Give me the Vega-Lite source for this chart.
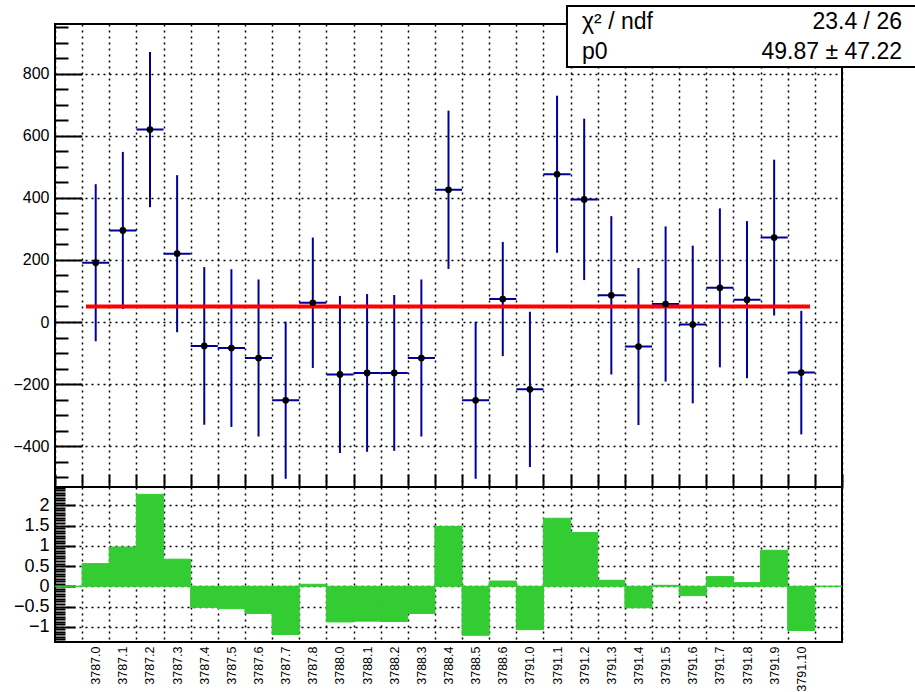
{
  "$schema": "https://vega.github.io/schema/vega-lite/v6.json",
  "background": "white",
  "padding": {"left": 11, "top": 3, "right": 1, "bottom": 0},
  "spacing": 0,
  "bounds": "flush",
  "datasets": {
    "points": [
      {"run": "3787.0", "value": 191, "err": 253},
      {"run": "3787.1", "value": 295, "err": 253},
      {"run": "3787.2", "value": 620, "err": 250},
      {"run": "3787.3", "value": 220, "err": 253},
      {"run": "3787.4", "value": -77, "err": 254},
      {"run": "3787.5", "value": -84, "err": 254},
      {"run": "3787.6", "value": -116, "err": 253},
      {"run": "3787.7", "value": -252, "err": 253},
      {"run": "3787.8", "value": 62, "err": 210},
      {"run": "3788.0", "value": -169, "err": 253},
      {"run": "3788.1", "value": -164, "err": 254},
      {"run": "3788.2", "value": -164, "err": 251},
      {"run": "3788.3", "value": -116, "err": 253},
      {"run": "3788.4", "value": 426, "err": 255},
      {"run": "3788.5", "value": -252, "err": 253},
      {"run": "3788.6", "value": 74, "err": 184},
      {"run": "3791.0", "value": -217, "err": 250},
      {"run": "3791.1", "value": 476, "err": 253},
      {"run": "3791.2", "value": 395, "err": 260},
      {"run": "3791.3", "value": 86, "err": 255},
      {"run": "3791.4", "value": -79, "err": 253},
      {"run": "3791.5", "value": 58, "err": 250},
      {"run": "3791.6", "value": -8, "err": 254},
      {"run": "3791.7", "value": 110, "err": 256},
      {"run": "3791.8", "value": 72, "err": 253},
      {"run": "3791.9", "value": 272, "err": 251},
      {"run": "3791.10", "value": -163, "err": 199}
    ],
    "residuals": [
      {"run": " ", "pull": 0},
      {"run": "3787.0", "pull": 0.56},
      {"run": "3787.1", "pull": 0.97},
      {"run": "3787.2", "pull": 2.27},
      {"run": "3787.3", "pull": 0.67},
      {"run": "3787.4", "pull": -0.52},
      {"run": "3787.5", "pull": -0.55},
      {"run": "3787.6", "pull": -0.67},
      {"run": "3787.7", "pull": -1.19},
      {"run": "3787.8", "pull": 0.05},
      {"run": "3788.0", "pull": -0.88},
      {"run": "3788.1", "pull": -0.86},
      {"run": "3788.2", "pull": -0.87},
      {"run": "3788.3", "pull": -0.67},
      {"run": "3788.4", "pull": 1.48},
      {"run": "3788.5", "pull": -1.21},
      {"run": "3788.6", "pull": 0.13},
      {"run": "3791.0", "pull": -1.07},
      {"run": "3791.1", "pull": 1.68},
      {"run": "3791.2", "pull": 1.33},
      {"run": "3791.3", "pull": 0.15},
      {"run": "3791.4", "pull": -0.53},
      {"run": "3791.5", "pull": 0.025},
      {"run": "3791.6", "pull": -0.23},
      {"run": "3791.7", "pull": 0.24},
      {"run": "3791.8", "pull": 0.09},
      {"run": "3791.9", "pull": 0.89},
      {"run": "3791.10", "pull": -1.09},
      {"run": "  ", "pull": 0}
    ],
    "fit": [
      {"p0": 49.87, "chi2ndf": "23.4 / 26", "p0text": "49.87 ± 47.22"}
    ]
  },
  "vconcat": [
    {
      "width": 787,
      "height": 463,
      "resolve": {"axis": {"x": "independent", "y": "independent"}},
      "layer": [
        {
          "data": {"name": "points"},
          "mark": {"type": "errorbar", "color": "#000099", "thickness": 2},
          "encoding": {
            "x": {
              "field": "run", "type": "nominal", "title": null,
              "scale": {"domain": [" ", "3787.0", "3787.1", "3787.2", "3787.3", "3787.4", "3787.5", "3787.6", "3787.7", "3787.8", "3788.0", "3788.1", "3788.2", "3788.3", "3788.4", "3788.5", "3788.6", "3791.0", "3791.1", "3791.2", "3791.3", "3791.4", "3791.5", "3791.6", "3791.7", "3791.8", "3791.9", "3791.10", "  "], "paddingInner": 0, "paddingOuter": 0},
              "axis": {"orient": "bottom", "labels": false, "ticks": false, "tickBand": "extent", "grid": true, "domain": false, "title": null}
            },
            "y": {
              "field": "value", "type": "quantitative", "title": null,
              "scale": {"domain": [-531.5, 960], "nice": false, "zero": false},
              "axis": {"orient": "left", "values": [-400, -200, 0, 200, 400, 600, 800], "format": "d", "ticks": false, "labelFontSize": 16, "labelPadding": 6, "grid": true, "domain": false, "title": null}
            },
            "yError": {"field": "err"}
          }
        },
        {
          "data": {"name": "points"},
          "mark": {"type": "rect", "fill": null, "stroke": "#000099", "strokeWidth": 2},
          "encoding": {
            "x": {"field": "run", "type": "nominal", "title": null,
              "axis": {"orient": "top", "offset": -463, "labels": false, "ticks": true, "tickSize": 13, "tickWidth": 2, "tickBand": "extent", "grid": false, "domain": false, "title": null}},
            "y": {"field": "value", "type": "quantitative", "title": null,
              "axis": {"orient": "right", "offset": -787, "values": [-400, -200, 0, 200, 400, 600, 800], "labels": false, "ticks": true, "tickSize": 27, "tickWidth": 2, "grid": false, "domain": false, "title": null}},
            "y2": {"field": "value"}
          }
        },
        {
          "data": {"name": "fit"},
          "mark": {"type": "rule", "color": "#ff0000", "strokeWidth": 4},
          "encoding": {
            "x": {"datum": "3787.0", "type": "nominal", "bandPosition": 0.142, "axis": null},
            "x2": {"datum": "3791.10", "bandPosition": 0.82},
            "y": {"field": "p0", "type": "quantitative", "title": null, "axis": null}
          }
        },
        {
          "data": {"name": "points"},
          "mark": {"type": "point", "filled": true, "color": "black", "size": 45, "opacity": 1},
          "encoding": {
            "x": {"field": "run", "type": "nominal", "title": null, "axis": null},
            "y": {"field": "value", "type": "quantitative", "title": null,
              "axis": {"orient": "right", "offset": -787, "values": [-500, -450, -350, -300, -250, -150, -100, -50, 50, 100, 150, 250, 300, 350, 450, 500, 550, 650, 700, 750, 850, 900, 950], "labels": false, "ticks": true, "tickSize": 13, "tickWidth": 2, "grid": false, "domain": false, "title": null}}
          }
        },
        {
          "data": {"name": "fit"},
          "mark": {"type": "rect", "fill": "white", "stroke": "black", "strokeWidth": 2, "clip": false},
          "encoding": {
            "x": {"datum": "3791.1", "type": "nominal", "bandPosition": 0.866, "axis": null},
            "x2": {"datum": "  ", "bandPosition": 3.727},
            "y": {"datum": 1018, "type": "quantitative", "axis": null},
            "y2": {"datum": 821.5}
          }
        },
        {
          "data": {"name": "fit"},
          "mark": {"type": "text", "text": "χ² / ndf", "align": "left", "baseline": "alphabetic", "fontSize": 23, "font": "Liberation Sans", "color": "black", "clip": false},
          "encoding": {
            "x": {"datum": "3791.2", "type": "nominal", "bandPosition": 0.42, "axis": null},
            "y": {"datum": 943.9, "type": "quantitative", "axis": null}
          }
        },
        {
          "data": {"name": "fit"},
          "mark": {"type": "text", "text": "p0", "align": "left", "baseline": "alphabetic", "fontSize": 23, "font": "Liberation Sans", "color": "black", "clip": false},
          "encoding": {
            "x": {"datum": "3791.2", "type": "nominal", "bandPosition": 0.42, "axis": null},
            "y": {"datum": 847.2, "type": "quantitative", "axis": null}
          }
        },
        {
          "data": {"name": "fit"},
          "mark": {"type": "text", "align": "right", "baseline": "alphabetic", "fontSize": 23, "font": "Liberation Sans", "color": "black", "clip": false},
          "encoding": {
            "x": {"datum": "  ", "type": "nominal", "bandPosition": 3.21, "axis": null},
            "y": {"datum": 943.9, "type": "quantitative", "axis": null},
            "text": {"field": "chi2ndf"}
          }
        },
        {
          "data": {"name": "fit"},
          "mark": {"type": "text", "align": "right", "baseline": "alphabetic", "fontSize": 23, "font": "Liberation Sans", "color": "black", "clip": false},
          "encoding": {
            "x": {"datum": "  ", "type": "nominal", "bandPosition": 3.21, "axis": null},
            "y": {"datum": 847.2, "type": "quantitative", "axis": null},
            "text": {"field": "p0text"}
          }
        }
      ]
    },
    {
      "width": 787,
      "height": 155,
      "data": {"name": "residuals"},
      "resolve": {"axis": {"x": "independent", "y": "independent"}},
      "layer": [
        {
          "mark": {"type": "bar", "color": "#33cc33", "stroke": "#33cc33", "strokeWidth": 1},
          "encoding": {
            "x": {
              "field": "run", "type": "nominal", "title": null, "sort": null,
              "scale": {"domain": [" ", "3787.0", "3787.1", "3787.2", "3787.3", "3787.4", "3787.5", "3787.6", "3787.7", "3787.8", "3788.0", "3788.1", "3788.2", "3788.3", "3788.4", "3788.5", "3788.6", "3791.0", "3791.1", "3791.2", "3791.3", "3791.4", "3791.5", "3791.6", "3791.7", "3791.8", "3791.9", "3791.10", "  "], "paddingInner": 0, "paddingOuter": 0},
              "axis": {"orient": "bottom", "tickBand": "extent", "ticks": false, "grid": true, "domain": false, "labelAngle": -90, "labelFontSize": 12.5, "labelPadding": 4, "title": null}
            },
            "y": {
              "field": "pull", "type": "quantitative", "title": null,
              "scale": {"domain": [-1.375, 2.452], "nice": false, "zero": false},
              "axis": {"orient": "left", "values": [-1, -0.5, 0, 0.5, 1, 1.5, 2], "format": "~g", "ticks": false, "labelFontSize": 18, "labelPadding": 6, "grid": true, "domain": false, "title": null}
            }
          }
        },
        {
          "mark": {"type": "bar", "opacity": 0},
          "encoding": {
            "x": {"field": "run", "type": "nominal", "title": null, "sort": null, "axis": null},
            "y": {"field": "pull", "type": "quantitative", "title": null,
              "axis": {"orient": "right", "offset": -787, "values": [-1, -0.5, 0, 0.5, 1, 1.5, 2], "labels": false, "ticks": true, "tickSize": 20, "tickWidth": 2, "grid": false, "domain": false, "title": null}}
          }
        },
        {
          "mark": {"type": "bar", "opacity": 0},
          "encoding": {
            "x": {"field": "run", "type": "nominal", "title": null, "sort": null, "axis": null},
            "y": {"field": "pull", "type": "quantitative", "title": null,
              "axis": {"orient": "right", "offset": -787, "values": [-1.3125, -1.25, -1.1875, -1.125, -1.0625, -0.9375, -0.875, -0.8125, -0.75, -0.6875, -0.625, -0.5625, -0.4375, -0.375, -0.3125, -0.25, -0.1875, -0.125, -0.0625, 0.0625, 0.125, 0.1875, 0.25, 0.3125, 0.375, 0.4375, 0.5625, 0.625, 0.6875, 0.75, 0.8125, 0.875, 0.9375, 1.0625, 1.125, 1.1875, 1.25, 1.3125, 1.375, 1.4375, 1.5625, 1.625, 1.6875, 1.75, 1.8125, 1.875, 1.9375, 2.0625, 2.125, 2.1875, 2.25, 2.3125, 2.375, 2.4375], "labels": false, "ticks": true, "tickSize": 10, "tickWidth": 2, "grid": false, "domain": false, "title": null}}
          }
        }
      ]
    }
  ],
  "config": {
    "view": {"stroke": "black", "strokeWidth": 2},
    "axis": {"domain": false, "gridColor": "black", "gridDash": [2, 4], "gridWidth": 1.5, "labelFont": "Liberation Sans", "labelColor": "black", "tickColor": "black", "labelOverlap": false}
  }
}
